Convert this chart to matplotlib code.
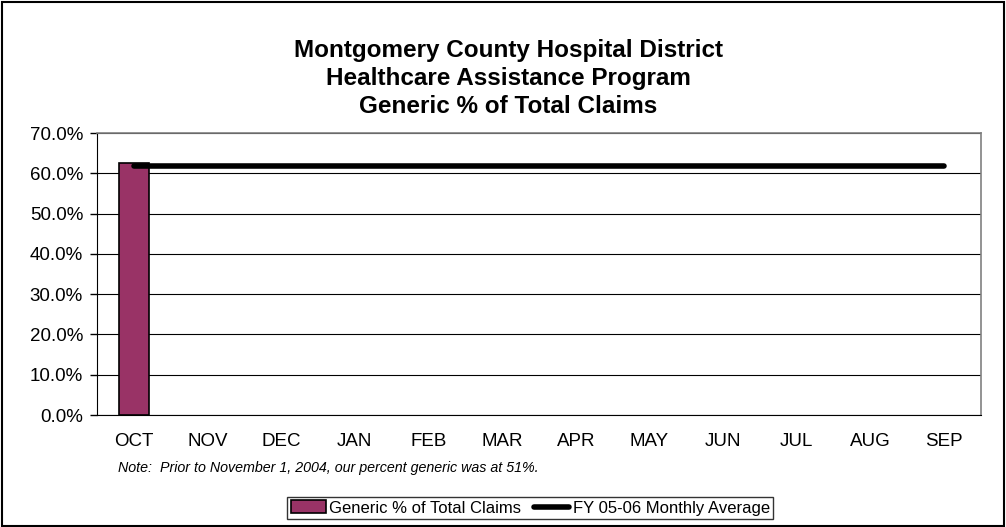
import numpy as np
import matplotlib
matplotlib.use('Agg')
import matplotlib.pyplot as plt
from matplotlib.ticker import PercentFormatter

plt.rcParams['font.family'] = ['Liberation Sans', 'DejaVu Sans']

# Data
months = ['OCT', 'NOV', 'DEC', 'JAN', 'FEB', 'MAR', 'APR', 'MAY', 'JUN', 'JUL', 'AUG', 'SEP']
generic_pct = [62.5, np.nan, np.nan, np.nan, np.nan, np.nan, np.nan, np.nan, np.nan, np.nan, np.nan, np.nan]
monthly_avg = [61.8] * 12

fig = plt.figure(figsize=(10.06, 5.27), dpi=100)
ax = fig.add_axes([0.0964, 0.2125, 0.8786, 0.5351])

x = np.arange(len(months))
bars = ax.bar(x, generic_pct, width=0.41, color='#993366', edgecolor='black', linewidth=1.2,
              label='Generic % of Total Claims', zorder=3)
line, = ax.plot(x, monthly_avg, color='black', linewidth=4, solid_capstyle='round',
                label='FY 05-06 Monthly Average', zorder=4)

ax.set_xlim(-0.5, 11.5)
ax.set_ylim(0, 70)
ax.set_yticks(np.arange(0, 71, 10))
ax.yaxis.set_major_formatter(PercentFormatter(decimals=1))
ax.set_xticks(x)
ax.set_xticklabels(months)
ax.tick_params(axis='both', labelsize=13.5, length=5, width=1, color='black', pad=5)
ax.tick_params(axis='x', length=0, pad=13)
ax.grid(axis='y', color='black', linewidth=0.8, zorder=0)

for side in ['top', 'right']:
    ax.spines[side].set_color('#808080')
    ax.spines[side].set_linewidth(1.2)
ax.spines['left'].set_color('black')
ax.spines['bottom'].set_color('black')

fig.text(0.505, 0.8918, 'Montgomery County Hospital District', ha='center', va='baseline',
         fontsize=17.5, fontweight='bold')
fig.text(0.505, 0.8387, 'Healthcare Assistance Program', ha='center', va='baseline',
         fontsize=17.5, fontweight='bold')
fig.text(0.505, 0.7856, 'Generic % of Total Claims', ha='center', va='baseline',
         fontsize=17.5, fontweight='bold')

fig.text(0.117, 0.112, 'Note:  Prior to November 1, 2004, our percent generic was at 51%.',
         ha='left', va='center', fontsize=10.3, style='italic')

leg = fig.legend([bars, line], ['Generic % of Total Claims', 'FY 05-06 Monthly Average'],
                 loc='center', bbox_to_anchor=(0.527, 0.036), ncol=2, fontsize=12,
                 frameon=True, fancybox=False, edgecolor='black', borderpad=0.2,
                 handlelength=2.1, handleheight=0.8, handletextpad=0.2, columnspacing=0.8,
                 borderaxespad=0)
leg.get_frame().set_linewidth(1)

# outer chart border
fig.patches.append(plt.Rectangle((0.002, 0.002), 0.996, 0.994, transform=fig.transFigure,
                                 fill=False, edgecolor='black', linewidth=1.5))

fig.savefig('out.png', dpi=100)
